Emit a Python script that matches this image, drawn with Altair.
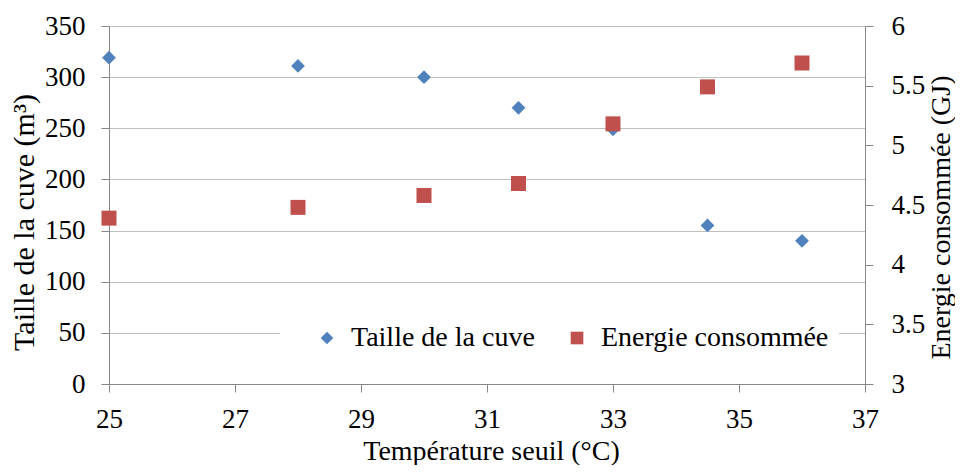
import altair as alt
import pandas as pd

temps = [25, 28, 30, 31.5, 33, 34.5, 36]
taille = [319, 311, 300, 270, 249, 155, 140]
energie = [4.39, 4.48, 4.58, 4.68, 5.18, 5.49, 5.69]
series_names = ["Taille de la cuve", "Energie consommée"]
x_ticks = [25, 27, 29, 31, 33, 35, 37]
left_ticks = [0, 50, 100, 150, 200, 250, 300, 350]
right_ticks = [3, 3.5, 4, 4.5, 5, 5.5, 6]

df1 = pd.DataFrame({"temp": temps, "val": taille, "serie": series_names[0]})
df2 = pd.DataFrame({"temp": temps, "val": energie, "serie": series_names[1]})

FONT = "'Liberation Serif', 'Times New Roman', serif"
GRID = "#BFBFBF"
DOMAIN = "#878787"

x_enc = alt.X("temp:Q",
              scale=alt.Scale(domain=[25, 37], nice=False, zero=False),
              axis=alt.Axis(values=x_ticks, grid=False, title="Température seuil (°C)",
                            tickSize=8, labelPadding=14, labelFontSize=27, labelFlush=False,
                            labelFont=FONT, titleFont=FONT,
                            titleX=382, titleY=75, titleAlign="center",
                            titleBaseline="alphabetic", titleFontSize=28,
                            domainColor=DOMAIN, tickColor=DOMAIN))

legend_kw = dict(title="\u2003", titleOrient="left", titleFontSize=28, titlePadding=23,
                 titleColor="white", titleFont=FONT,
                 orient="none", legendX=171, legendY=288,
                 direction="horizontal", fillColor="white", padding=10,
                 labelFont=FONT, labelFontSize=28, labelColor="black",
                 labelExpr="datum.label + '\u2003'",
                 symbolSize=160, symbolStrokeWidth=0, columnPadding=28,
                 labelOffset=10, labelLimit=500, symbolOpacity=1)

color = alt.Color("serie:N", scale=alt.Scale(domain=series_names, range=["#4F81BD", "#C0504D"]),
                  legend=alt.Legend(**legend_kw))
shape = alt.Shape("serie:N", scale=alt.Scale(domain=series_names, range=["diamond", "square"]),
                  legend=alt.Legend(**legend_kw))

left = alt.Chart(df1).mark_point(filled=True, size=190, opacity=1).encode(
    x=x_enc,
    y=alt.Y("val:Q", scale=alt.Scale(domain=[0, 350], nice=False),
            axis=alt.Axis(values=left_ticks, title="Taille de la cuve (m³)", orient="left",
                          gridColor=GRID, domainColor=DOMAIN, tickColor=DOMAIN,
                          labelFont=FONT, titleFont=FONT, labelFlush=False,
                          tickSize=8, labelPadding=16, labelFontSize=27,
                          titleX=-85, titleY=196, titleAngle=270, titleAlign="center",
                          titleBaseline="middle", titleFontSize=30)),
    color=color, shape=shape,
)

right = alt.Chart(df2).mark_point(filled=True, size=225, opacity=1).encode(
    x=x_enc,
    y=alt.Y("val:Q", scale=alt.Scale(domain=[3, 6], nice=False, zero=False),
            axis=alt.Axis(values=right_ticks, format="~g", title="Energie consommée (GJ)",
                          orient="right", grid=False, domainColor=DOMAIN, tickColor=DOMAIN,
                          labelFont=FONT, titleFont=FONT, labelFlush=False,
                          tickSize=8, labelPadding=18, labelFontSize=27,
                          titleX=76, titleY=191, titleAngle=270, titleAlign="center",
                          titleBaseline="middle", titleFontSize=28)),
    color=color, shape=shape,
)

chart = alt.layer(left, right).resolve_scale(y="independent").properties(
    width=756, height=358,
    autosize=alt.AutoSizeParams(type="none"),
    padding={"left": 101, "top": 18, "right": 90, "bottom": 81},
    background="white",
).configure_view(stroke=None).configure_axis(
    labelColor="black", titleColor="black", titleFontWeight="normal",
)

chart.save("out.html", embed_options={"renderer": "svg", "actions": False})
